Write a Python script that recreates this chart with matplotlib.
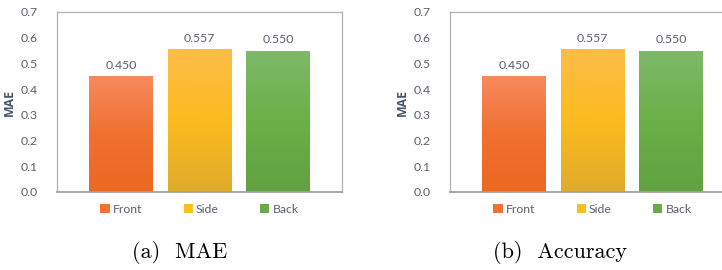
import matplotlib
matplotlib.use('Agg')

import numpy as np
import matplotlib.pyplot as plt
from matplotlib.colors import LinearSegmentedColormap
from matplotlib.patches import Patch

# data
views = ['Front', 'Side', 'Back']
mae_values = [0.450, 0.557, 0.550]
acc_values = [0.450, 0.557, 0.550]
captions = ['(a)  MAE', '(b)  Accuracy']
y_ticks = [0.0, 0.1, 0.2, 0.3, 0.4, 0.5, 0.6, 0.7]

# gradient colours per bar (top -> bottom)
grads = [
    ['#f68a5e', '#f07030', '#ec6822'],
    ['#fcbd4a', '#fcbb1e', '#dfab2c'],
    ['#7db96a', '#6bb047', '#61a142'],
]
legend_cols = ['#ef7433', '#fbbc2a', '#6aab48']
text_col = '#595f6e'
label_col = '#44546a'

plt.rcParams['font.family'] = ['Lato', 'DejaVu Sans']

fig = plt.figure(figsize=(7.22, 2.70), dpi=100)
W, H = 722, 270


def draw_panel(left_px, values, caption, cap_x):
    ax = fig.add_axes([left_px / W, (H - 192) / H, 285 / W, 180 / H])
    x = np.arange(len(views))
    width = 0.815
    bars = ax.bar(x, values, width=width, color='none', edgecolor='none', zorder=2)
    for b, g in zip(bars, grads):
        cmap = LinearSegmentedColormap.from_list('g', g[::-1])
        grad = np.linspace(0, 1, 256).reshape(-1, 1)
        im = ax.imshow(grad, cmap=cmap, origin='lower', aspect='auto',
                       extent=[b.get_x(), b.get_x() + b.get_width(), 0, b.get_height()],
                       zorder=2)
        im.set_clip_path(b)
    for xi, v in zip(x, values):
        ax.text(xi, v + 0.02, f'{v:.3f}', ha='center', va='bottom',
                fontsize=8.8, color=text_col)
    ax.set_xlim(-0.815, 2.815)
    ax.set_ylim(0, 0.7)
    ax.set_yticks(y_ticks)
    ax.set_yticklabels([f'{t:.1f}' for t in y_ticks])
    ax.set_xticks([])
    ax.tick_params(axis='y', length=0, pad=14, labelsize=8.8, labelcolor=text_col)
    for s in ax.spines.values():
        s.set_color('#b0b0b0')
        s.set_linewidth(0.9)
    ax.spines['bottom'].set_color('#a0a0a0')
    ax.spines['bottom'].set_linewidth(1.3)
    ax.set_ylabel('MAE', fontsize=8.8, fontweight='bold', color=label_col, labelpad=3,
                  family=['Open Sans', 'DejaVu Sans'])

    handles = [Patch(facecolor=c, edgecolor='none') for c in legend_cols]
    ax.legend(handles, views, ncol=3, loc='center', bbox_to_anchor=(0.5, -0.095),
              frameon=False, handlelength=0.75, handleheight=0.75, handletextpad=0.25,
              columnspacing=3.4, fontsize=8.8, labelcolor=text_col)

    fig.text(cap_x / W, 1 - 252 / H, caption, ha='center', va='center',
             fontsize=16, family='cmr10')


draw_panel(57, mae_values, captions[0], 180)
draw_panel(450, acc_values, captions[1], 560)

fig.savefig('out.png', dpi=100)
